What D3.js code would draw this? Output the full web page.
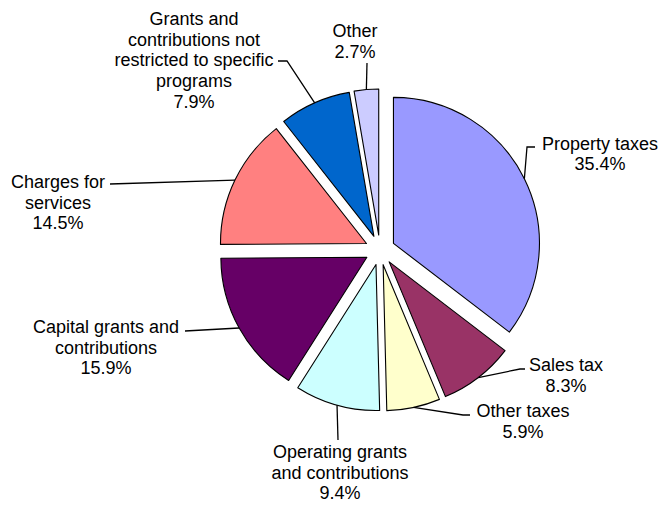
<!DOCTYPE html>
<html>
<head>
<meta charset="utf-8">
<script src="https://cdn.jsdelivr.net/npm/d3@7"></script>
<style>
  body { margin: 0; background: #fff; }
  svg { display: block; }
  .lbl { font-family: "Liberation Sans", Arial, sans-serif; font-size: 18px; fill: #000; }
</style>
</head>
<body>
<div id="chart"></div>
<script>
// data, clockwise from 12 o'clock
const categories = [
  "Property taxes",
  "Sales tax",
  "Other taxes",
  "Operating grants and contributions",
  "Capital grants and contributions",
  "Charges for services",
  "Grants and contributions not restricted to specific programs",
  "Other"
];
const shares = [35.4, 8.3, 5.9, 9.4, 15.9, 14.5, 7.9, 2.7];
const labelLines = [
  ["Property taxes"],
  ["Sales tax"],
  ["Other taxes"],
  ["Operating grants", "and contributions"],
  ["Capital grants and", "contributions"],
  ["Charges for", "services"],
  ["Grants and", "contributions not", "restricted to specific", "programs"],
  ["Other"]
];
const colors = ["#9999FF", "#993366", "#FFFFCC", "#CCFFFF", "#660066", "#FF8080", "#0066CC", "#CCCCFF"];

// label layout: text centre x, first baseline, leader path after the arc point
const labelLayout = [
  { x: 600, y: 149.5, leader: [[527, 147], [535, 147]] },
  { x: 566, y: 371,   leader: [[520, 369], [525, 369]] },
  { x: 523, y: 417,   leader: [[463, 415], [470, 415]] },
  { x: 340, y: 458,   leader: [[338, 440]] },
  { x: 106, y: 333,   leader: [[185, 331]] },
  { x: 58,  y: 188,   leader: [[110, 184]] },
  { x: 194, y: 25,    leader: [[287, 61], [278, 61]] },
  { x: 355, y: 37,    leader: [[367, 63]] }
];

const width = 659, height = 506;
const cx = 380, cy = 250, radius = 146, explode = 15, lineGap = 20.7;

const svg = d3.select("#chart").append("svg")
  .attr("width", width)
  .attr("height", height);

svg.append("rect").attr("width", width).attr("height", height).attr("fill", "#fff");

const pie = d3.pie().sort(null).value(d => d);
const arcs = pie(shares);
const arc = d3.arc().innerRadius(0).outerRadius(radius);

const g = svg.append("g").attr("transform", `translate(${cx},${cy})`);

let midOf = d => (d.startAngle + d.endAngle) / 2;
let offsetOf = d => [Math.sin(midOf(d)) * explode, -Math.cos(midOf(d)) * explode];

g.selectAll(".slice")
  .data(arcs)
  .enter()
  .append("path")
  .attr("class", "slice")
  .attr("transform", d => `translate(${offsetOf(d)})`)
  .attr("d", arc)
  .style("fill", (d, i) => colors[i])
  .style("stroke", "#000")
  .style("stroke-width", 1.1)
  .style("stroke-linejoin", "round");

// leader lines start on the slice edge at its mid angle
const line = d3.line();
arcs.forEach((d, i) => {
  const off = offsetOf(d);
  const a = midOf(d);
  const start = [cx + off[0] + Math.sin(a) * radius, cy + off[1] - Math.cos(a) * radius];
  svg.append("path")
    .attr("d", line([start, ...labelLayout[i].leader]))
    .attr("fill", "none")
    .attr("stroke", "#000")
    .attr("stroke-width", 1.3);
});

// labels
arcs.forEach((d, i) => {
  const lay = labelLayout[i];
  const lines = [...labelLines[i], `${shares[i].toFixed(1)}%`];
  const t = svg.append("text")
    .attr("class", "lbl")
    .attr("text-anchor", "middle");
  lines.forEach((s, k) => {
    t.append("tspan")
      .attr("x", lay.x)
      .attr("y", lay.y + k * lineGap)
      .text(s);
  });
});
</script>
</body>
</html>
